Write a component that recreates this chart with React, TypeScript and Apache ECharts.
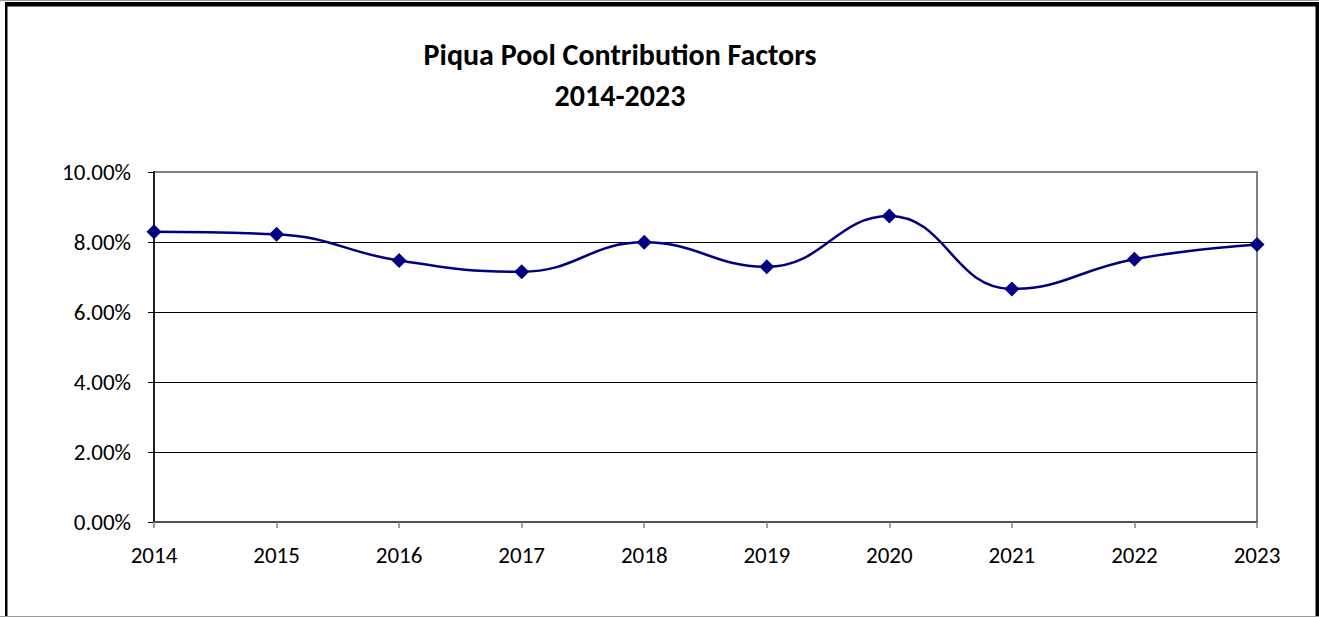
import React, { useEffect, useRef } from "react";
import * as echarts from "echarts";

const titleLines = ["Piqua Pool Contribution Factors", "2014-2023"];
const years = ["2014", "2015", "2016", "2017", "2018", "2019", "2020", "2021", "2022", "2023"];
const factors = [8.29, 8.22, 7.47, 7.15, 7.99, 7.29, 8.74, 6.66, 7.51, 7.93];
const yMin = 0;
const yMax = 10;
const yStep = 2;

const FONT = "Carlito, Calibri, Lato, 'Open Sans', sans-serif";

export default function App() {
  const ref = useRef<HTMLDivElement>(null);

  useEffect(() => {
    if (!ref.current) return;
    const chart = echarts.init(ref.current, null, { renderer: "svg" });
    chart.setOption({
      animation: false,
      backgroundColor: "#ffffff",
      grid: {
        left: 154,
        top: 172,
        right: 62,
        bottom: 95,
        containLabel: false,
        show: true,
        borderColor: "#808080",
        borderWidth: 2,
        backgroundColor: "transparent",
      },
      graphic: [
        { type: "rect", shape: { x: 0, y: 0, width: 1319, height: 1 }, style: { fill: "#9a9a9a" }, z: 100 },
        { type: "rect", shape: { x: 0, y: 616, width: 1319, height: 1 }, style: { fill: "#9a9a9a" }, z: 100 },
        { type: "rect", shape: { x: 5, y: 2, width: 1314, height: 4.5 }, style: { fill: "#000000" }, z: 100 },
        { type: "rect", shape: { x: 5, y: 2, width: 2.5, height: 614 }, style: { fill: "#000000" }, z: 100 },
        { type: "rect", shape: { x: 1315.5, y: 2, width: 3.5, height: 614 }, style: { fill: "#000000" }, z: 100 },
        {
          type: "text",
          x: 620,
          y: 54,
          style: {
            text: titleLines[0],
            font: `bold 30px ${FONT}`,
            fill: "#000000",
            align: "center",
            verticalAlign: "middle",
          },
          z: 100,
        },
        {
          type: "text",
          x: 620,
          y: 95,
          style: {
            text: titleLines[1],
            font: `bold 30px ${FONT}`,
            fill: "#000000",
            align: "center",
            verticalAlign: "middle",
          },
          z: 100,
        },
      ],
      xAxis: {
        type: "category",
        data: years,
        boundaryGap: false,
        axisLine: { show: true, lineStyle: { color: "#404040", width: 1.5 } },
        axisTick: { show: true, length: 6, lineStyle: { color: "#808080", width: 1.5 } },
        axisLabel: {
          color: "#000000",
          fontSize: 23,
          fontFamily: FONT,
          margin: 21,
        },
        splitLine: { show: false },
      },
      yAxis: {
        type: "value",
        min: yMin,
        max: yMax,
        interval: yStep,
        axisLine: { show: true, lineStyle: { color: "#000000", width: 1.5 } },
        axisTick: { show: true, length: 6, lineStyle: { color: "#000000", width: 1 } },
        axisLabel: {
          color: "#000000",
          fontSize: 23,
          fontFamily: FONT,
          margin: 23,
          formatter: (v: number) => v.toFixed(2) + "%",
        },
        splitLine: {
          show: true,
          showMinLine: false,
          showMaxLine: false,
          lineStyle: { color: "#000000", width: 1 },
        },
      },
      series: [
        {
          type: "line",
          data: factors,
          smooth: 0.45,
          symbol: "diamond",
          symbolSize: 15,
          itemStyle: { color: "#000080" },
          lineStyle: { color: "#000080", width: 2.5 },
          z: 5,
        },
      ],
    });
    return () => chart.dispose();
  }, []);

  return (
    <div
      ref={ref}
      style={{ position: "fixed", left: 0, top: 0, width: 1319, height: 617 }}
    />
  );
}
